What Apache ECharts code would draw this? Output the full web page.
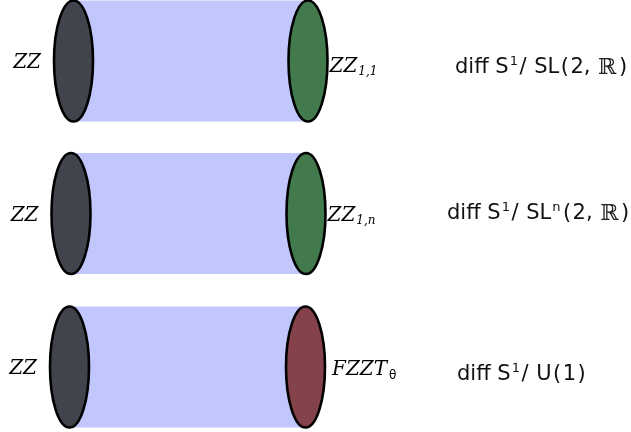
<!DOCTYPE html>
<html>
<head>
<meta charset="utf-8">
<script src="https://cdn.jsdelivr.net/npm/echarts@6/dist/echarts.min.js"></script>
<style>html,body{margin:0;padding:0;background:#fff}#c{width:631px;height:432px}</style>
</head>
<body>
<div id="c"></div>
<script>
// Diagram values (in a 631 x 432 coordinate space)
const rowNames = ['row1', 'row2', 'row3'];
const tubeStartX = [73.5, 71, 69.5];
const tubeEndX = [308, 306, 305.5];
const tubeCenterY = [61, 213.5, 367];
const leftLabels = ['ZZ', 'ZZ', 'ZZ'];
const rightLabelMain = ['ZZ', 'ZZ', 'FZZT'];
const rightLabelSub = ['1,1', '1,n', 'θ'];
const noteLabels = ['diff S¹/ SL(2, ℝ)', 'diff S¹/ SLⁿ(2, ℝ)', 'diff S¹/ U(1)'];
const noteX = [455, 447, 457];
const noteY = [68, 214, 375];
const endKind = ['green', 'green', 'red'];

const endColors = { green: '#427a4e', red: '#84424b' };
const tubeRadiusY = 60.5;
const capRadiusX = 19.5;

const data = rowNames.map((n, i) => [tubeStartX[i], tubeEndX[i], tubeCenterY[i], i]);

function toRich(s) {
  let out = '';
  let buf = '';
  const flush = () => { if (buf) { out += '{t|' + buf + '}'; buf = ''; } };
  for (const ch of s) {
    if (ch === '¹') { flush(); out += '{sup|1}'; }
    else if (ch === 'ⁿ') { flush(); out += '{sup|n}'; }
    else if (ch === 'ℝ') { flush(); out += '{r|ℝ}'; }
    else if (ch === '(' || ch === ')') { flush(); out += '{p|' + ch + '}'; }
    else if (ch === '/') { flush(); out += '{sl|/}'; }
    else buf += ch;
  }
  flush();
  return out;
}

const base = { fontFamily: 'DejaVu Sans', fontSize: 21, lineHeight: 26, verticalAlign: 'middle', fill: '#111' };
const noteRich = {
  t: base,
  p: Object.assign({}, base, { padding: [0, 1.5, 0, 1.5] }),
  sl: Object.assign({}, base, { padding: [0, 1, 0, 0.5] }),
  sup: { fontFamily: 'DejaVu Sans', fontSize: 13, lineHeight: 13, verticalAlign: 'top', fill: '#111', padding: [0, 1, 0, 1] },
  r: { fontFamily: 'DejaVu Serif', fontSize: 22, lineHeight: 26, verticalAlign: 'middle', fill: '#222', padding: [0, 1, 0, 1] }
};

const chart = echarts.init(document.getElementById('c'), null, { renderer: 'canvas' });

function renderItem(params, api) {
  const i = api.value(3);
  const p0 = api.coord([api.value(0), api.value(2)]);
  const p1 = api.coord([api.value(1), api.value(2)]);
  const ry = api.size([0, tubeRadiusY])[1];
  const rx = api.size([capRadiusX, 0])[0];
  const np = api.coord([noteX[i], noteY[i]]);
  const sub = rightLabelSub[i];
  const subStyle = sub === 'θ' ? 'sth' : 'sub';
  return {
    type: 'group',
    children: [
      { type: 'rect', shape: { x: p0[0], y: p0[1] - ry, width: p1[0] - p0[0], height: 2 * ry },
        style: { fill: '#c1c6fd' } },
      { type: 'ellipse', shape: { cx: p0[0], cy: p0[1], rx: rx, ry: ry },
        style: { fill: '#41444c', stroke: '#000', lineWidth: 2.6 } },
      { type: 'ellipse', shape: { cx: p1[0], cy: p1[1], rx: rx, ry: ry },
        style: { fill: endColors[endKind[i]], stroke: '#000', lineWidth: 2.6 } },
      { type: 'text', x: p0[0] - rx - 13, y: p0[1] + 2,
        style: { text: leftLabels[i], align: 'right', verticalAlign: 'middle',
          fontFamily: 'DejaVu Serif', fontStyle: 'italic', fontSize: 20, fill: '#000' } },
      { type: 'text', x: p1[0] + rx + (i === 2 ? 7 : 2), y: p1[1] + (i === 0 ? 6 : (i === 1 ? 2 : 3)),
        style: { text: '{m|' + rightLabelMain[i] + '}{' + subStyle + '|' + sub + '}',
          align: 'left', verticalAlign: 'middle',
          rich: {
            m: { fontFamily: 'DejaVu Serif', fontStyle: 'italic', fontSize: 20, lineHeight: 24, verticalAlign: 'middle', fill: '#000' },
            sub: { fontFamily: 'DejaVu Serif', fontStyle: 'italic', fontSize: 12, lineHeight: 12, verticalAlign: 'bottom', fill: '#000', padding: [0, 0, 1, 1] },
            sth: { fontFamily: 'DejaVu Sans', fontSize: 12, lineHeight: 12, verticalAlign: 'bottom', fill: '#000', padding: [0, 0, 0, 2] }
          } } },
      { type: 'text', x: np[0], y: np[1],
        style: { text: toRich(noteLabels[i]), align: 'left', verticalAlign: 'middle', rich: noteRich } }
    ]
  };
}

chart.setOption({
  animation: false,
  grid: { left: 0, right: 0, top: 0, bottom: 0 },
  xAxis: { type: 'value', min: 0, max: 631, show: false },
  yAxis: { type: 'value', min: 0, max: 432, inverse: true, show: false },
  series: [{ type: 'custom', renderItem: renderItem, data: data, clip: false }]
});
</script>
</body>
</html>
